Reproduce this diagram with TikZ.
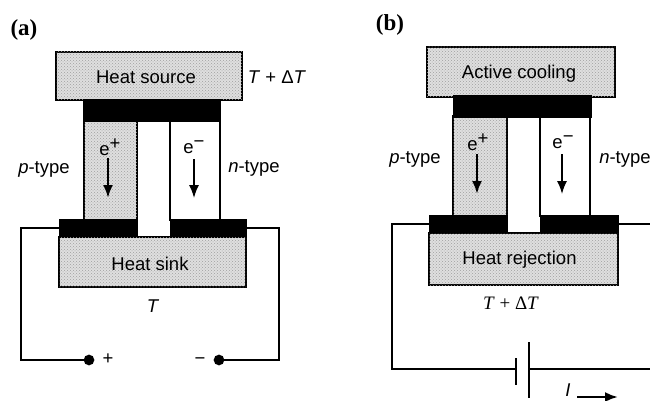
\documentclass[tikz,border=0pt]{standalone}
\usepackage{fontspec}
\usetikzlibrary{arrows.meta,patterns}
\setmainfont{Liberation Sans}
\newfontfamily\serifbold{Liberation Serif}
\newcommand{\carrier}[1]{e\raisebox{.32em}{#1}}
\begin{document}
\begin{tikzpicture}[x=1pt, y=-1pt, line width=1.6pt,
  box node/.style={rectangle,draw=black,line width=1.9pt,fill=gray!25,postaction={pattern=crosshatch dots,pattern color=gray!75},inner sep=0pt},
  leg node/.style={rectangle,draw=black,line width=1.4pt,inner sep=0pt},
  bar node/.style={rectangle,fill=black,draw=black,line width=0pt,inner sep=0pt},
  dot node/.style={circle,fill=black,draw,minimum size=9pt,inner sep=0pt},
  lab node/.style={inner sep=0pt,font=\fontsize{18.5}{20}\selectfont},
  flow/.style={-{Latex[length=13pt,width=10pt]},line width=1.5pt},
  head node/.style={inner sep=0pt,font=\serifbold\bfseries\fontsize{23}{24}\selectfont}]
\useasboundingbox (0,0) rectangle (650,401);
\fill[white] (0,0) rectangle (650,401);
% panel a
\node[head node] (heada) at (24,30) {(a)};
\node[box node,minimum width=186pt,minimum height=48pt] (source) at (149,76) {};
\node[lab node] (sourcel) at (146,77) {Heat source};
\node[lab node] (hot) at (277,77) {\textit{T} + Δ\textit{T}};
\node[leg node,fill=gray!25,postaction={pattern=crosshatch dots,pattern color=gray!75},minimum width=53pt,minimum height=100pt] (pleg) at (110.5,170) {};
\node[leg node,fill=white,minimum width=50pt,minimum height=100pt] (nleg) at (195,170) {};
\node[bar node,minimum width=137pt,minimum height=22pt] (toppad) at (151.5,111) {};
\node[bar node,minimum width=78pt,minimum height=18pt] (padp) at (98,228) {};
\node[bar node,minimum width=76pt,minimum height=18pt] (padn) at (208,228) {};
\node[box node,minimum width=187pt,minimum height=50pt] (sink) at (152.5,262) {};
\node[lab node] (sinkl) at (150,264) {Heat sink};
\node[lab node] (cold) at (153,306) {\textit{T}};
\node[lab node] (pa) at (44,169) {\textit{p}-type};
\node[lab node] (na) at (254,168) {\textit{n}-type};
\node[lab node] (epa) at (110,147) {\carrier{+}};
\node[lab node] (ena) at (194,147) {\carrier{−}};
\coordinate (fpa) at (108,158);
\coordinate (tpa) at (108,198);
\coordinate (fna) at (194,159);
\coordinate (tna) at (194,198);
\draw[flow,line width=2.4pt] (fpa) -- (tpa);
\draw[flow] (fna) -- (tna);
\node[dot node] (plus) at (89,360) {};
\node[dot node] (minus) at (219,360) {};
\node[lab node] (plusl) at (108,359) {+};
\node[lab node] (minusl) at (200,361) {−};
\draw (padp.west) -| (21,360) -- (plus);
\draw (padn.east) -| (279,360) -- (minus);
% panel b
\node[head node] (headb) at (390,25) {(b)};
\node[box node,minimum width=188pt,minimum height=50pt] (cooling) at (521,72) {};
\node[lab node] (coolingl) at (519,74) {Active cooling};
\node[leg node,fill=gray!25,postaction={pattern=crosshatch dots,pattern color=gray!75},minimum width=54pt,minimum height=100pt] (plegb) at (480,166) {};
\node[leg node,fill=white,minimum width=50pt,minimum height=100pt] (nlegb) at (565,166) {};
\node[bar node,minimum width=138pt,minimum height=22pt] (toppadb) at (522,107) {};
\node[bar node,minimum width=78pt,minimum height=18pt] (padpb) at (468,224) {};
\node[bar node,minimum width=78pt,minimum height=18pt] (padnb) at (579,224) {};
\node[box node,minimum width=189pt,minimum height=52pt] (reject) at (523.5,259) {};
\node[lab node] (rejectl) at (519.5,260) {Heat rejection};
\node[lab node,font=\serifbold\fontsize{19}{20}\selectfont] (hotb) at (511,303) {\textit{T} + Δ\textit{T}};
\node[lab node] (pb) at (415,159) {\textit{p}-type};
\node[lab node] (nb) at (625,159) {\textit{n}-type};
\node[lab node] (epb) at (478,142) {\carrier{+}};
\node[lab node] (enb) at (563,142) {\carrier{−}};
\coordinate (fpb) at (477,154);
\coordinate (tpb) at (477,194);
\coordinate (fnb) at (562,154);
\coordinate (tnb) at (562,194);
\draw[flow,line width=2.4pt] (fpb) -- (tpb);
\draw[flow] (fnb) -- (tnb);
\coordinate (platea) at (516,369);
\coordinate (plateb) at (529,369);
\coordinate (edgeb) at (650,369);
\coordinate (edgec) at (650,224);
\draw (padpb.west) -| (392,369) -- (platea);
\draw (padnb.east) -- (edgec);
\draw (plateb) -- (edgeb);
\draw (516,358) -- (platea) -- (516,385);
\draw (529,342) -- (plateb) -- (529,398);
\node[lab node] (cur) at (568,390) {\textit{I}};
\coordinate (fcur) at (577,397);
\coordinate (tcur) at (618,397);
\draw[flow,line width=2.4pt] (fcur) -- (tcur);
\end{tikzpicture}
\end{document}
